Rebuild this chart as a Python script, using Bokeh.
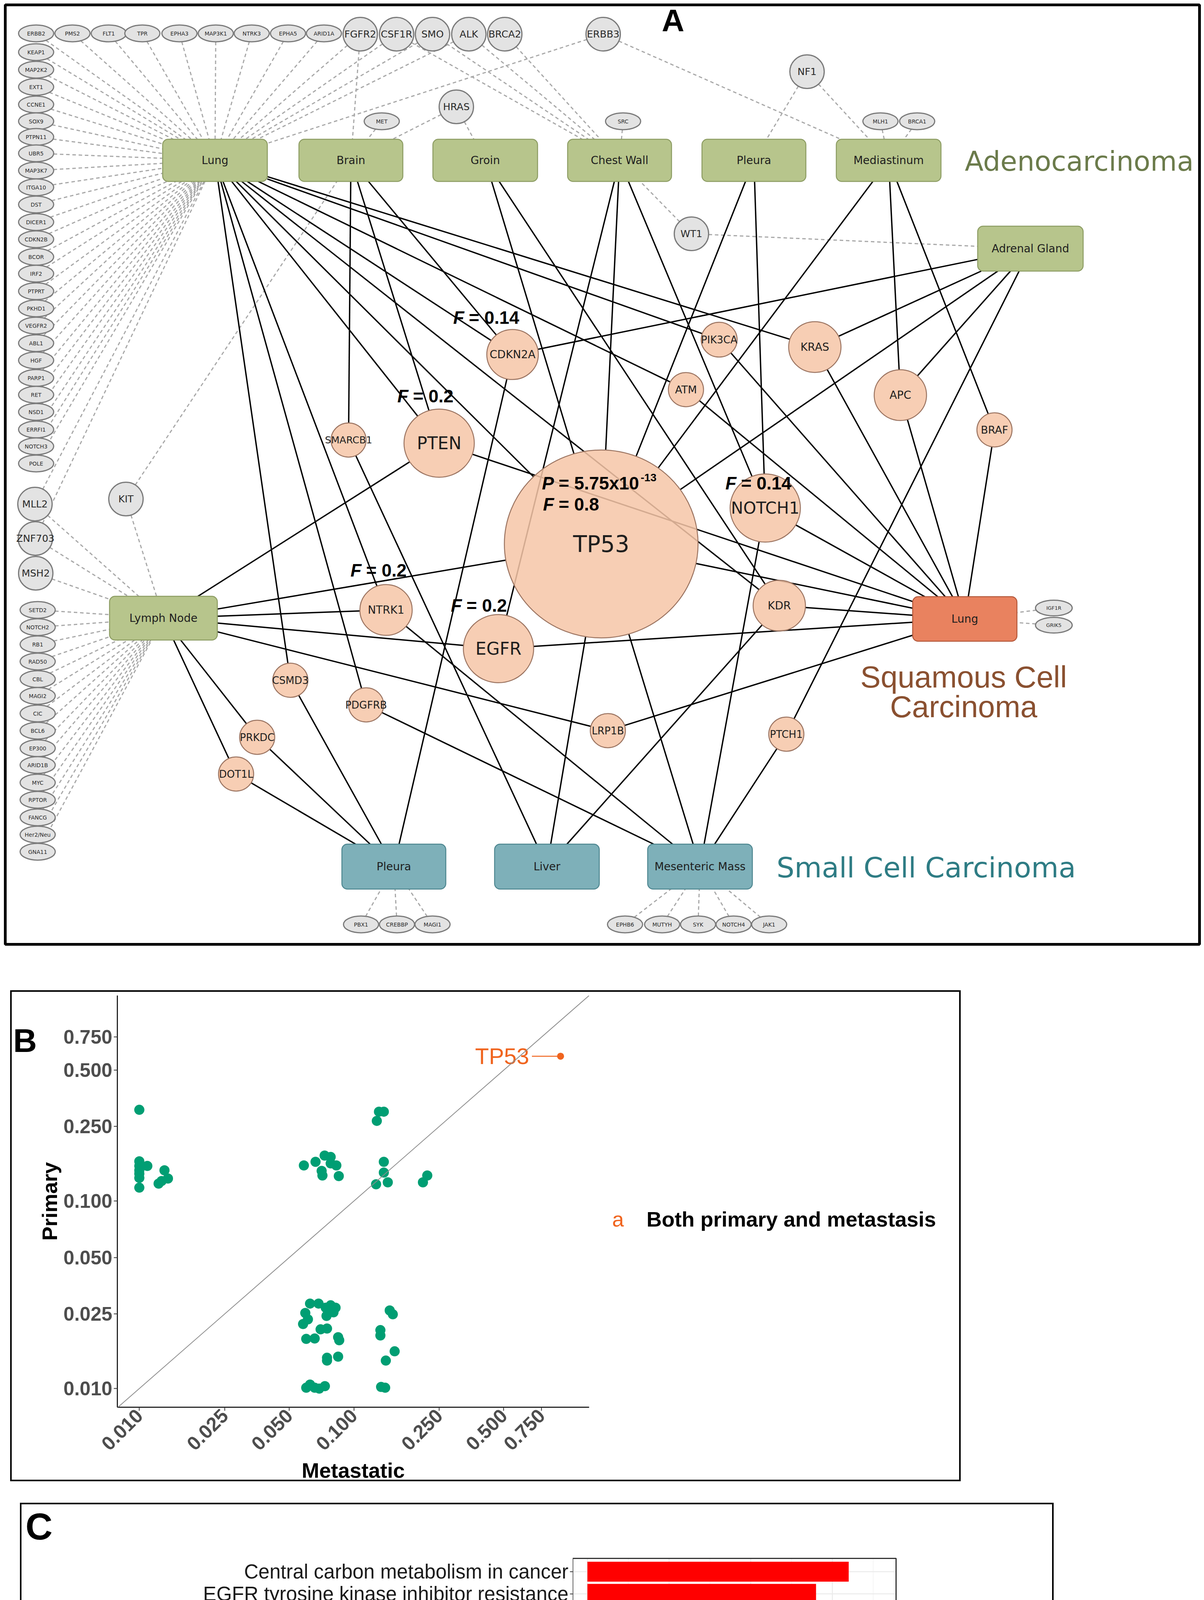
import math
from bokeh.plotting import figure
from bokeh.models import (Range1d, ColumnDataSource, LinearColorMapper, ColorBar, FixedTicker,
                          PrintfTickFormatter, CustomJSTickFormatter, Slope, AllLabels, LogAxis, LinearAxis)
from bokeh.embed import file_html
from bokeh.resources import INLINE
from bokeh.core.properties import value

# ===================== DATA =====================
# ---- Panel A : metastatic sites and mutated genes ----
site_ids = ["LungA", "Brain", "Groin", "ChestWall", "PleuraA", "Mediastinum", "Adrenal",
            "LymphNode", "LungS", "PleuraS", "Liver", "Mesenteric"]
site_labels = ["Lung", "Brain", "Groin", "Chest Wall", "Pleura", "Mediastinum", "Adrenal Gland",
               "Lymph Node", "Lung", "Pleura", "Liver", "Mesenteric Mass"]
site_histology = ["adeno"] * 8 + ["squamous"] + ["small"] * 3

core_genes = ["TP53", "PTEN", "EGFR", "NOTCH1", "CDKN2A", "KRAS", "APC", "KDR", "NTRK1", "PIK3CA",
              "ATM", "SMARCB1", "BRAF", "CSMD3", "PDGFRB", "LRP1B", "PTCH1", "PRKDC", "DOT1L"]

grey_genes = ["ERBB2", "PMS2", "FLT1", "TPR", "EPHA3", "MAP3K1", "NTRK3", "EPHA5", "ARID1A",
              "FGFR2", "CSF1R", "SMO", "ALK", "BRCA2", "ERBB3",
              "KEAP1", "MAP2K2", "EXT1", "CCNE1", "SOX9", "PTPN11", "UBR5", "MAP3K7", "ITGA10", "DST",
              "DICER1", "CDKN2B", "BCOR", "IRF2", "PTPRT", "PKHD1", "VEGFR2", "ABL1", "HGF", "PARP1",
              "RET", "NSD1", "ERRFI1", "NOTCH3", "POLE",
              "MLL2", "ZNF703", "MSH2", "KIT",
              "SETD2", "NOTCH2", "RB1", "RAD50", "CBL", "MAGI2", "CIC", "BCL6", "EP300", "ARID1B",
              "MYC", "RPTOR", "FANCG", "Her2/Neu", "GNA11",
              "MET", "HRAS", "SRC", "NF1", "MLH1", "BRCA1", "WT1", "IGF1R", "GRIK5",
              "PBX1", "CREBBP", "MAGI1", "EPHB6", "MUTYH", "SYK", "NOTCH4", "JAK1"]

solid_edges = {
    "LungA": ["TP53", "PTEN", "CDKN2A", "KRAS", "ATM", "PIK3CA", "NTRK1", "CSMD3", "PDGFRB", "KDR"],
    "Brain": ["SMARCB1", "PTEN", "CDKN2A"],
    "Groin": ["TP53", "KDR"],
    "ChestWall": ["TP53", "EGFR", "NOTCH1"],
    "PleuraA": ["TP53", "NOTCH1"],
    "Mediastinum": ["TP53", "APC", "BRAF"],
    "Adrenal": ["CDKN2A", "KRAS", "APC", "TP53", "PTCH1"],
    "LymphNode": ["PTEN", "TP53", "NTRK1", "EGFR", "LRP1B", "PRKDC", "DOT1L"],
    "LungS": ["TP53", "PTEN", "NOTCH1", "KDR", "EGFR", "KRAS", "APC", "BRAF", "PIK3CA", "ATM", "LRP1B"],
    "PleuraS": ["CDKN2A", "CSMD3", "PRKDC", "DOT1L"],
    "Liver": ["SMARCB1", "TP53", "KDR"],
    "Mesenteric": ["NTRK1", "PDGFRB", "TP53", "NOTCH1", "PTCH1"],
}
lung_only = ["ERBB2", "PMS2", "FLT1", "TPR", "EPHA3", "MAP3K1", "NTRK3", "EPHA5", "ARID1A",
             "KEAP1", "MAP2K2", "EXT1", "CCNE1", "SOX9", "PTPN11", "UBR5", "MAP3K7", "ITGA10", "DST",
             "DICER1", "CDKN2B", "BCOR", "IRF2", "PTPRT", "PKHD1", "VEGFR2", "ABL1", "HGF", "PARP1",
             "RET", "NSD1", "ERRFI1", "NOTCH3", "POLE"]
lymph_only = ["SETD2", "NOTCH2", "RB1", "RAD50", "CBL", "MAGI2", "CIC", "BCL6", "EP300", "ARID1B",
              "MYC", "RPTOR", "FANCG", "Her2/Neu", "GNA11", "MSH2"]
dashed_edges = {g: ["LungA"] for g in lung_only}
dashed_edges.update({g: ["LymphNode"] for g in lymph_only})
dashed_edges.update({
    "FGFR2": ["LungA", "Brain"], "CSF1R": ["LungA", "ChestWall"], "SMO": ["LungA", "ChestWall"],
    "ALK": ["LungA", "ChestWall"], "BRCA2": ["ChestWall"], "ERBB3": ["LungA", "Mediastinum"],
    "MET": ["Brain"], "HRAS": ["Brain", "Groin"], "SRC": ["ChestWall"], "NF1": ["PleuraA", "Mediastinum"],
    "MLH1": ["Mediastinum"], "BRCA1": ["Mediastinum"], "WT1": ["ChestWall", "Adrenal"],
    "MLL2": ["LungA", "LymphNode"], "ZNF703": ["LungA", "LymphNode"], "KIT": ["Brain", "LymphNode"],
    "IGF1R": ["LungS"], "GRIK5": ["LungS"],
    "PBX1": ["PleuraS"], "CREBBP": ["PleuraS"], "MAGI1": ["PleuraS"],
    "EPHB6": ["Mesenteric"], "MUTYH": ["Mesenteric"], "SYK": ["Mesenteric"],
    "NOTCH4": ["Mesenteric"], "JAK1": ["Mesenteric"],
})
freq_genes = ["CDKN2A", "PTEN", "NOTCH1", "NTRK1", "EGFR", "TP53"]
freq_values = ["0.14", "0.2", "0.14", "0.2", "0.2", "0.8"]
tp53_p_mant, tp53_p_exp = "5.75", "-13"

# ---- Panel B : mutation frequency, metastatic vs primary ----
met_freq = [0.0100, 0.0100, 0.0100, 0.0100, 0.0100, 0.0100, 0.0109, 0.0100, 0.0131, 0.0123, 0.0127, 0.0136,
            0.0585, 0.0663, 0.0731, 0.0780, 0.0780, 0.0829, 0.0708, 0.0714, 0.0851,
            0.128, 0.131, 0.138, 0.138, 0.138, 0.127, 0.144,
            0.210, 0.220,
            0.0625, 0.0685, 0.0594, 0.0611, 0.0580, 0.0740, 0.0780, 0.0822, 0.0804, 0.0746, 0.0700, 0.0750,
            0.0600, 0.0657, 0.0845, 0.0855, 0.0750, 0.0750, 0.0845, 0.0600, 0.0625, 0.0657, 0.0690, 0.0733,
            0.147, 0.152, 0.133, 0.133, 0.155, 0.141, 0.134, 0.140]
pri_freq = [0.307, 0.163, 0.154, 0.146, 0.140, 0.133, 0.154, 0.118, 0.146, 0.124, 0.128, 0.132,
            0.155, 0.162, 0.175, 0.172, 0.159, 0.155, 0.145, 0.137, 0.136,
            0.268, 0.300, 0.300, 0.162, 0.142, 0.123, 0.126,
            0.126, 0.137,
            0.0284, 0.0284, 0.0253, 0.0234, 0.0221, 0.0270, 0.0278, 0.0270, 0.0255, 0.0244, 0.0207, 0.0209,
            0.0184, 0.0185, 0.0188, 0.0181, 0.0141, 0.0146, 0.0148, 0.0101, 0.0105, 0.0101, 0.0100, 0.0103,
            0.0261, 0.0249, 0.0205, 0.0192, 0.0158, 0.0141, 0.0102, 0.0101]
tp53_met, tp53_pri = 0.92, 0.593
b_ticks = [0.01, 0.025, 0.05, 0.1, 0.25, 0.5, 0.75]
b_legend_label = "Both primary and metastasis"
b_letter_level = 0.718   # Primary-scale height of the panel letter
b_legend_level = 0.08    # Primary-scale height of the legend row

# ---- Panel C : KEGG enrichment ----
pathways = ["Central carbon metabolism in cancer", "EGFR tyrosine kinase inhibitor resistance",
            "MAPK signaling pathway", "Ras signaling pathway", "PI3K-Akt signaling pathway",
            "Endocrine resistance", "Proteoglycans in cancer", "Rap1 signaling pathway",
            "Phospholipase D signaling pathway", "Cellular senescence", "Gap junction",
            "PD-L1 expression and PD-1 checkpoint pathway in cancer", "Choline metabolism in cancer",
            "Focal adhesion", "Regulation of actin cytoskeleton", "Sphingolipid signaling pathway",
            "Neurotrophin signaling pathway", "Thyroid hormone signaling pathway",
            "FoxO signaling pathway", "Apoptosis"]
gene_count = [8, 7, 9, 8, 9, 6, 6, 6, 5, 5, 4, 4, 4, 5, 5, 4, 4, 4, 4, 4]
p_adjust = [1.5e-6, 4e-6, 8e-6, 1.2e-5, 2e-5, 5e-5, 5.5e-5, 6e-5, 1.1e-4, 1.15e-4, 1.7e-4, 1.8e-4,
            1.9e-4, 2.3e-4, 3.3e-4, 3.9e-4, 4.0e-4, 4.1e-4, 5.6e-4, 6.45e-4]
c_ticks = [0, 2.5, 5, 7.5]
c_minor = [1.25, 3.75, 6.25, 8.75]
legend_ticks = [2e-4, 4e-4, 6e-4]

# ===================== LAYOUT (node placement, pixels) =====================
site_x = [550, 898, 1242, 1586, 1930, 2275, 2638, 418, 2470, 1008, 1400, 1792]
site_y = [410, 410, 410, 410, 410, 410, 636, 1582, 1584, 2218, 2218, 2218]
site_w = [268, 266, 268, 266, 266, 268, 270, 276, 267, 266, 268, 268]
site_h = [108, 108, 108, 108, 108, 108, 115, 112, 114, 115, 115, 115]

core_x = [1539, 1124, 1276, 1959, 1312, 2086, 2305, 1995, 988, 1841, 1756, 892, 2546, 743, 937, 1556, 2013, 658, 604]
core_y = [1392, 1134, 1660, 1300, 907, 888, 1011, 1550, 1561, 869, 997, 1126, 1100, 1741, 1804, 1870, 1879, 1887, 1981]
core_r = [248, 90, 90, 90, 66, 67, 67, 67, 67, 46, 45, 45, 45, 45, 45, 45, 45, 45, 45]
core_fs = [58, 44, 44, 42, 28, 28, 28, 28, 28, 26, 27, 25, 27, 26, 26, 26, 26, 26, 26]

grey_x = [92, 185, 278, 364, 459, 552, 644, 737, 829,
          922, 1015, 1107, 1200, 1292, 1544] + [92] * 25 + [89, 90, 91, 322] + [96] * 15 + \
         [977, 1168, 1595, 2066, 2254, 2348, 1770, 2698, 2698,
          924, 1016, 1107, 1600, 1695, 1787, 1878, 1969]
grey_y = [85] * 9 + [87] * 6 + \
         [133, 178, 222, 267, 310, 350, 392, 436, 479, 523, 568, 612, 657, 700, 745, 789, 833, 878,
          922, 967, 1010, 1054, 1099, 1142, 1186] + [1290, 1378, 1467, 1277] + \
         [1561, 1605, 1649, 1693, 1738, 1781, 1826, 1870, 1915, 1958, 2003, 2047, 2092, 2136, 2180] + \
         [310, 273, 310, 183, 310, 310, 598, 1556, 1600] + [2366] * 8
grey_kind = ["s"] * 9 + ["b"] * 6 + ["s"] * 25 + ["b"] * 4 + ["s"] * 15 + \
            ["s", "b", "s", "b", "s", "s", "b", "t", "t"] + ["s"] * 8
grey_dims = {"s": (90, 43), "b": (88, 86), "t": (94, 40)}
grey_fs = {"s": "14px", "b": "25px", "t": "13px"}

# ===================== PANEL A =====================
W_A, H_A = 3083, 2535
pA = figure(width=W_A, height=H_A, x_range=Range1d(0, W_A), y_range=Range1d(H_A, 0),
            x_axis_location=None, y_axis_location=None, output_backend="svg",
            toolbar_location=None, min_border=0)
pA.grid.visible = False
pA.outline_line_color = None

nodes = {}
for i, s in enumerate(site_ids):
    nodes[s] = ("rect", site_x[i], site_y[i], site_w[i] / 2, site_h[i] / 2)
for i, g in enumerate(core_genes):
    nodes[g] = ("ell", core_x[i], core_y[i], core_r[i], core_r[i] * 0.97)
for i, g in enumerate(grey_genes):
    w, h = grey_dims[grey_kind[i]]
    nodes[g] = ("ell", grey_x[i], grey_y[i], w / 2, h / 2)


def edge_point(n, tx, ty):
    kind, cx, cy, a, b = nodes[n]
    dx, dy = tx - cx, ty - cy
    if kind == "rect":
        t = min(a / abs(dx) if dx else 1e9, b / abs(dy) if dy else 1e9)
    else:
        t = 1.0 / math.sqrt((dx / a) ** 2 + (dy / b) ** 2)
    return cx + dx * t, cy + dy * t


def segs(pairs):
    x0, y0, x1, y1 = [], [], [], []
    for u, v in pairs:
        ux, uy = nodes[u][1], nodes[u][2]
        vx, vy = nodes[v][1], nodes[v][2]
        a = edge_point(u, vx, vy)
        b = edge_point(v, ux, uy)
        x0.append(a[0]); y0.append(a[1]); x1.append(b[0]); y1.append(b[1])
    return dict(x0=x0, y0=y0, x1=x1, y1=y1)


pA.quad(left=[13], right=[3071], top=[12], bottom=[2417], fill_alpha=0,
        line_color="black", line_width=7)

dpairs = [(g, s) for g, ss in dashed_edges.items() for s in ss]
spairs = [(s, g) for s, gs in solid_edges.items() for g in gs]
pA.segment("x0", "y0", "x1", "y1", source=ColumnDataSource(segs(dpairs)),
           line_color="#a8a8a8", line_width=3, line_dash="9 7")
pA.segment("x0", "y0", "x1", "y1", source=ColumnDataSource(segs(spairs)),
           line_color="black", line_width=3.5)

fills = {"adeno": "#b7c58c", "squamous": "#e9825f", "small": "#7eb0b9"}
borders = {"adeno": "#8c9c62", "squamous": "#b4583a", "small": "#4d8690"}
box_src = ColumnDataSource(dict(
    l=[site_x[i] - site_w[i] / 2 for i in range(len(site_ids))],
    r=[site_x[i] + site_w[i] / 2 for i in range(len(site_ids))],
    t=[site_y[i] - site_h[i] / 2 for i in range(len(site_ids))],
    b=[site_y[i] + site_h[i] / 2 for i in range(len(site_ids))],
    fc=[fills[h] for h in site_histology], lc=[borders[h] for h in site_histology]))
try:
    pA.quad(left="l", right="r", top="t", bottom="b", source=box_src, fill_color="fc",
            line_color="lc", line_width=2.5, border_radius=14)
except Exception:
    pA.quad(left="l", right="r", top="t", bottom="b", source=box_src, fill_color="fc",
            line_color="lc", line_width=2.5)
pA.text(x=site_x, y=site_y, text=site_labels, text_align="center", text_baseline="middle",
        text_font=value("DejaVu Sans"), text_font_size="28px", text_color="#1e1e1e")

gsrc = ColumnDataSource(dict(x=grey_x, y=grey_y, name=grey_genes,
                             w=[grey_dims[k][0] for k in grey_kind], h=[grey_dims[k][1] for k in grey_kind],
                             fs=[grey_fs[k] for k in grey_kind]))
pA.ellipse("x", "y", width="w", height="h", source=gsrc, fill_color="#e3e3e3",
           line_color="#7a7a7a", line_width=3)
pA.text("x", "y", text="name", source=gsrc, text_align="center", text_baseline="middle",
        text_font=value("DejaVu Sans"), text_font_size="fs", text_color="#2a2a2a")

csrc = ColumnDataSource(dict(x=core_x, y=core_y, name=core_genes,
                             w=[2 * r for r in core_r], h=[2 * r * 0.97 for r in core_r],
                             fs=["%dpx" % f for f in core_fs]))
pA.ellipse("x", "y", width="w", height="h", source=csrc, fill_color="#f6c6a8", fill_alpha=0.86,
           line_color="#9c7562", line_width=2.5)
pA.text("x", "y", text="name", source=csrc, text_align="center", text_baseline="middle",
        text_font=value("DejaVu Sans"), text_font_size="fs", text_color="#1e1e1e")

ann_off = {"CDKN2A": (-112, -95), "PTEN": (-67, -121), "NOTCH1": (-62, -64),
           "NTRK1": (-51, -102), "EGFR": (-82, -111), "TP53": (-109, -102)}
fx, fy, ft = [], [], []
for g, v in zip(freq_genes, freq_values):
    i = core_genes.index(g)
    fx.append(core_x[i] + ann_off[g][0]); fy.append(core_y[i] + ann_off[g][1]); ft.append("= " + v)
i53 = core_genes.index("TP53")
px_, py_ = core_x[i53] - 109, core_y[i53] - 156
fsrc = ColumnDataSource(dict(x=fx + [px_], y=fy + [py_], t=ft + ["= %sx10" % tp53_p_mant],
                             L=["F"] * len(fx) + ["P"]))
pA.text("x", "y", text="t", source=fsrc, text_align="left", text_baseline="middle",
        text_font=value("Liberation Sans"), text_font_style="bold", text_font_size="46px",
        text_color="black")
pA.text(x=[v - 12 for v in fsrc.data["x"]], y=fsrc.data["y"], text=fsrc.data["L"], text_align="right",
        text_baseline="middle", text_font=value("Liberation Sans"), text_font_style="bold italic",
        text_font_size="46px", text_color="black")
pA.text(x=[px_ + 210], y=[py_ - 14], text=[tp53_p_exp], text_align="left", text_baseline="middle",
        text_font=value("Liberation Sans"), text_font_style="bold", text_font_size="28px",
        text_color="black")

pA.text(x=[2470], y=[412], text=["Adenocarcinoma"], text_align="left", text_baseline="middle",
        text_font=value("DejaVu Sans"), text_font_size="70px", text_color="#6b7b4b")
pA.text(x=[2467, 2467], y=[1732, 1808], text=["Squamous Cell", "Carcinoma"], text_align="center",
        text_baseline="middle", text_font=value("Liberation Sans"), text_font_size="78px",
        text_color="#8a5030")
pA.text(x=[1988], y=[2220], text=["Small Cell Carcinoma"], text_align="left", text_baseline="middle",
        text_font=value("DejaVu Sans"), text_font_size="72px", text_color="#2e7c84")
pA.text(x=[1723], y=[52], text=["A"], text_align="center", text_baseline="middle",
        text_font=value("Liberation Sans"), text_font_style="bold", text_font_size="80px",
        text_color="black")


def label_axis(cls, tick, text, size, color, style, standoff):
    # an axis without line or tick marks that only carries one text label at one position
    return cls(ticker=FixedTicker(ticks=[tick]),
               formatter=CustomJSTickFormatter(args=dict(t=text), code="return t;"),
               axis_line_color=None, major_tick_line_color=None, minor_tick_line_color=None,
               major_tick_out=0, major_tick_in=0, major_label_standoff=standoff,
               major_label_text_font="Liberation Sans", major_label_text_font_style=style,
               major_label_text_font_size=size, major_label_text_color=color)


# ===================== PANEL B =====================
pB = figure(width=2434, height=1257, x_axis_type="log", y_axis_type="log",
            x_range=Range1d(0.0079, 1.25), y_range=Range1d(0.00795, 1.25),
            output_backend="svg", toolbar_location=None,
            min_border_left=250, min_border_right=956, min_border_top=9, min_border_bottom=190)
pB.grid.visible = False
pB.outline_line_color = None
pB.margin = (0, 0, 0, 26)
pB.styles = {"border": "4px solid black"}
for ax in (pB.xaxis[0], pB.yaxis[0]):
    ax.ticker = FixedTicker(ticks=b_ticks)
    ax.formatter = PrintfTickFormatter(format="%.3f")
    ax.major_label_text_font = "Liberation Sans"
    ax.major_label_text_font_style = "bold"
    ax.major_label_text_font_size = "50px"
    ax.major_label_text_color = "#4D4D4D"
    ax.axis_label_text_font = "Liberation Sans"
    ax.axis_label_text_font_style = "bold"
    ax.axis_label_text_font_size = "54px"
    ax.axis_label_text_color = "black"
    ax.axis_line_color = "black"
    ax.axis_line_width = 2.5
    ax.major_tick_line_color = "#333333"
    ax.major_tick_line_width = 2
    ax.major_tick_out = 9
    ax.major_tick_in = 0
    ax.minor_tick_line_color = None
    ax.major_label_standoff = 4
    ax.axis_label_standoff = 2
pB.xaxis.axis_label = "Metastatic"
pB.yaxis.axis_label = "Primary"
pB.xaxis.major_label_orientation = math.pi / 4
pB.add_layout(label_axis(LogAxis, b_letter_level, "B", "84px", "black", "bold", 0), "left")
pB.add_layout(label_axis(LogAxis, b_legend_level, "a", "54px", "#F0641E", "normal", 59), "right")
pB.add_layout(label_axis(LogAxis, b_legend_level, b_legend_label, "54px", "black", "bold", 55), "right")
pB.add_layout(Slope(gradient=1, y_intercept=0, line_color="#8c8c8c", line_width=2))
pB.scatter(met_freq, pri_freq, size=26, color="#009E73", line_color=None)
pB.segment(x0=[tp53_met / 1.36], y0=[tp53_pri], x1=[tp53_met], y1=[tp53_pri],
           line_color="#F0641E", line_width=2.5)
pB.scatter([tp53_met], [tp53_pri], size=18, color="#F0641E", line_color=None)
pB.text(x=[tp53_met / 1.4], y=[tp53_pri], text=["TP53"], text_align="right", text_baseline="middle",
        text_font=value("Liberation Sans"), text_font_size="58px", text_color="#F0641E")

# ===================== PANEL C =====================
def _lin(c):
    c = c / 255.0
    return ((c + 0.055) / 1.055) ** 2.4 if c > 0.04045 else c / 12.92


def _delin(c):
    c = max(0.0, c)
    c = 1.055 * c ** (1 / 2.4) - 0.055 if c > 0.0031308 else 12.92 * c
    return int(min(255, max(0, round(c * 255))))


def rgb2lab(rgb):
    r, g, b = [_lin(v) for v in rgb]
    X = (0.4124 * r + 0.3576 * g + 0.1805 * b) / 0.95047
    Y = 0.2126 * r + 0.7152 * g + 0.0722 * b
    Z = (0.0193 * r + 0.1192 * g + 0.9505 * b) / 1.08883
    f = lambda t: t ** (1 / 3) if t > 0.008856 else 7.787 * t + 16 / 116
    fx_, fy_, fz_ = f(X), f(Y), f(Z)
    return 116 * fy_ - 16, 500 * (fx_ - fy_), 200 * (fy_ - fz_)


def lab2hex(L, a, b):
    fy_ = (L + 16) / 116
    fx_ = fy_ + a / 500
    fz_ = fy_ - b / 200
    finv = lambda t: t ** 3 if t ** 3 > 0.008856 else (t - 16 / 116) / 7.787
    X, Y, Z = finv(fx_) * 0.95047, finv(fy_), finv(fz_) * 1.08883
    r = 3.2406 * X - 1.5372 * Y - 0.4986 * Z
    g = -0.9689 * X + 1.8758 * Y + 0.0415 * Z
    bb = 0.0557 * X - 0.2040 * Y + 1.0570 * Z
    return "#%02x%02x%02x" % (_delin(r), _delin(g), _delin(bb))


lab_red, lab_blue = rgb2lab((255, 0, 0)), rgb2lab((0, 0, 255))
palette = []
for i in range(256):
    s = 1 - i / 255.0
    palette.append(lab2hex(*[lab_red[k] + (lab_blue[k] - lab_red[k]) * s for k in range(3)]))
mapper = LinearColorMapper(palette=palette, low=-max(p_adjust), high=-min(p_adjust))

n_path = len(pathways)
ypos = [n_path - i for i in range(n_path)]           # first pathway on top
x_lo, x_hi = -0.45, max(gene_count) + 0.45            # bar-panel extent (ggplot expansion)
y_lo, y_hi = 0.4, n_path + 0.6
PX_X, PX_Y = 828 / (x_hi - x_lo), 1145 / (y_hi - y_lo)  # screen pixels per data unit
FW, FH = 1226, 1273                                    # plotting area that also holds the legend
pC = figure(width=2647, height=1385,
            x_range=Range1d(x_lo, x_lo + FW / PX_X), y_range=Range1d(y_lo, y_lo + FH / PX_Y),
            output_backend="svg", toolbar_location=None,
            min_border_left=1411, min_border_right=10, min_border_top=10, min_border_bottom=102)
pC.margin = (55, 0, 0, 51)
pC.styles = {"border": "4px solid black"}
pC.outline_line_color = None
pC.grid.visible = False
pC.xaxis.ticker = FixedTicker(ticks=c_ticks)
pC.xaxis.formatter = PrintfTickFormatter(format="%.1f")
pC.yaxis.ticker = FixedTicker(ticks=ypos)
pC.yaxis.major_label_overrides = {y: name for y, name in zip(ypos, pathways)}
for ax in (pC.xaxis[0], pC.yaxis[0]):
    ax.axis_line_color = None
    ax.major_tick_line_color = "#333333"
    ax.major_tick_line_width = 2
    ax.major_tick_out = 7
    ax.major_tick_in = 0
    ax.minor_tick_line_color = None
    ax.major_label_text_font = "Liberation Sans"
    ax.major_label_standoff = 4
pC.yaxis.major_label_text_font_size = "51px"
pC.yaxis.major_label_text_color = "#1a1a1a"
pC.xaxis.major_label_text_font_size = "50px"
pC.xaxis.major_label_text_color = "#333333"
# panel letter "C" (top-left), carried by an extra left axis
pC.add_layout(label_axis(LinearAxis, y_hi + 21.45 - n_path + 0.0, "C", "96px", "black", "bold", 0), "left")

# theme_bw grid and panel border for the bar panel
pC.segment(x0=c_minor, x1=c_minor, y0=[y_lo] * len(c_minor), y1=[y_hi] * len(c_minor),
           line_color="#F2F2F2", line_width=1.5)
pC.segment(x0=c_ticks, x1=c_ticks, y0=[y_lo] * len(c_ticks), y1=[y_hi] * len(c_ticks),
           line_color="#EBEBEB", line_width=2.5)
pC.segment(x0=[x_lo] * n_path, x1=[x_hi] * n_path, y0=ypos, y1=ypos, line_color="#EBEBEB", line_width=2.5)

csrcC = ColumnDataSource(dict(y=ypos, count=gene_count, negp=[-v for v in p_adjust]))
pC.hbar(y="y", left=0, right="count", height=0.9, source=csrcC,
        fill_color={"field": "negp", "transform": mapper}, line_color=None)
pC.quad(left=[x_lo], right=[x_hi], bottom=[y_lo], top=[y_hi], fill_alpha=0,
        line_color="#333333", line_width=3)

# colour legend (inside the plotting area, to the right of the bar panel)
cb = ColorBar(color_mapper=mapper, width=102, height=609, location=(900, 234),
              ticker=FixedTicker(ticks=[-t for t in legend_ticks]),
              formatter=CustomJSTickFormatter(code="return Math.round(-tick*1e4) + 'x10\u207b\u2074';"),
              major_label_policy=AllLabels(),
              major_label_text_font="Liberation Sans", major_label_text_font_size="48px",
              major_label_text_color="black", label_standoff=20,
              major_tick_line_color="white", major_tick_line_width=3, major_tick_in=22, major_tick_out=0,
              bar_line_color=None, border_line_color=None, background_fill_alpha=0,
              padding=0, margin=0)
pC.add_layout(cb)
pC.text(x=[x_lo + 905 / PX_X], y=[y_lo + 891 / PX_Y], text=["p adjust"], text_align="left",
        text_baseline="middle", text_font=value("Liberation Sans"), text_font_style="italic",
        text_font_size="54px", text_color="black")

open("out.html", "w").write(file_html([pA, pB, pC], INLINE))
